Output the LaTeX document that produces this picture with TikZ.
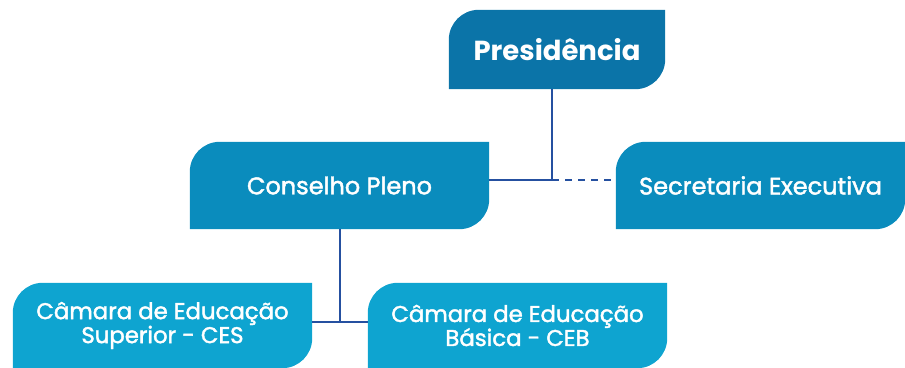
\documentclass[tikz,border=0pt]{standalone}
\usepackage{fontspec}
\setmainfont{Poppins}
\newfontfamily\medfont{Poppins}[FakeBold=1.8]
\usetikzlibrary{backgrounds}
\definecolor{presblue}{HTML}{0B74A8}
\definecolor{plenoblue}{HTML}{0A8CBD}
\definecolor{camarablue}{HTML}{0EA4D0}
\definecolor{linkblue}{HTML}{2550A0}

\begin{document}
\begin{tikzpicture}[x=1pt,y=1pt]
    \tikzset{UnitStyle/.style={inner sep=0pt, minimum width=299pt, minimum height=87pt,
        text=white, align=center, font=\medfont\fontsize{24}{24}\selectfont}}
    \tikzset{LinkStyle/.style={draw=linkblue, line width=2.8pt}}
    \useasboundingbox (0,0) rectangle (905,367);

    \node[UnitStyle, minimum width=216pt, minimum height=79pt,
          font=\bfseries\fontsize{27.5}{24}\selectfont] (pres) at (557,317.5) {Presidência};
    \node[UnitStyle] (pleno) at (339.5,181.5) {Conselho Pleno};
    \node[UnitStyle, minimum width=289pt] (sec) at (760.5,181.5) {Secretaria Executiva};
    \node[UnitStyle, minimum height=85pt, font=\medfont\fontsize{22.8}{24}\selectfont] (ces) at (162.5,41.5) {Câmara de Educação\\Superior - CES};
    \node[UnitStyle, minimum height=85pt, font=\medfont\fontsize{22.8}{24}\selectfont] (ceb) at (517.5,41.5) {Câmara de Educação\\Básica - CEB};

    \begin{scope}[on background layer]
    \foreach \n/\c in {pres/presblue, pleno/plenoblue, sec/plenoblue, ces/camarablue, ceb/camarablue}
        \fill[\c] (\n.south west) -- ([yshift=-30pt]\n.north west)
            arc[start angle=180, end angle=90, radius=30pt] -- (\n.north east)
            -- ([yshift=30pt]\n.south east)
            arc[start angle=0, end angle=-90, radius=30pt] -- cycle;
    \end{scope}

    \coordinate (hub) at (552,187);
    \coordinate (fork) at (340,45);
    \draw[LinkStyle] (pres.south -| hub) -- (hub) -- (hub -| pleno.east);
    \draw[LinkStyle, dash pattern=on 7pt off 6pt] (hub) -- (hub -| sec.west);
    \draw[LinkStyle] (pleno.south -| fork) -- (fork);
    \draw[LinkStyle] (fork -| ces.east) -- (fork -| ceb.west);
\end{tikzpicture}
\end{document}
